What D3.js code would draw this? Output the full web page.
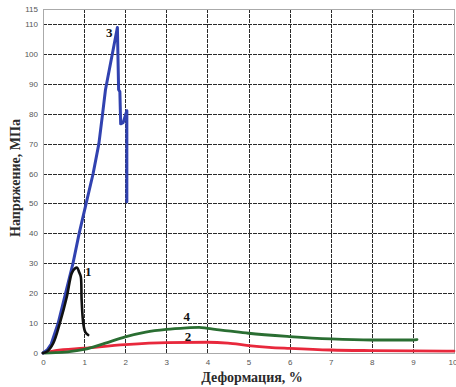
<!DOCTYPE html>
<html><head><meta charset="utf-8">
<script src="https://cdn.jsdelivr.net/npm/d3@7"></script>
<style>body{margin:0;background:#fff}svg{display:block}</style>
</head><body>
<svg id="c" width="456" height="387"></svg>
<script>
const xTicks = [0,1,2,3,4,5,6,7,8,9,10];
const yTicks = [0,10,20,30,40,50,60,70,80,90,100,110,115];
const xTitle = "Деформация, %";
const yTitle = "Напряжение, МПа";

const curve1X = [0,0.1,0.25,0.41,0.58,0.70,0.78,0.83,0.88,0.92,0.94,0.98,1.03,1.1];
const curve1Y = [0,0.5,3.3,10,18.8,26.7,28.3,28.5,27,25.5,17.7,9.9,7,6];
const curve3X = [0,0.1,0.2,0.37,0.55,0.73,0.88,1.05,1.22,1.36,1.45,1.52,1.81,1.84,1.87,1.89,1.95,2.04,2.04];
const curve3Y = [0,1,3,10,20,30,40,50,60,70,80,88,108.8,88,87.4,76.6,77,81,50.6];
const curve4X = [0,0.3,0.6,1,1.5,2,2.5,3,3.5,3.8,4,4.5,5,6,7,8,9,9.1];
const curve4Y = [0,0.1,0.4,1.2,3.2,5.4,7,7.9,8.4,8.6,8.2,7.4,6.6,5.5,4.7,4.35,4.35,4.5];
const curve2X = [0,0.3,1,2,3,4,4.5,5,5.5,6,7,8,9,10];
const curve2Y = [0,0.8,1.6,2.8,3.5,3.6,3.3,2.5,1.9,1.55,1.0,0.8,0.7,0.65];
const curveLabels = ["1","3","4","2"];
const labelX = [1.1,1.61,3.5,3.53];
const labelY = [25.9,105.7,10.7,4];

const svg = d3.select("#c");
const x = d3.scaleLinear().domain([0,10]).range([43,454]);
const y = d3.scaleLinear().domain([0,115]).range([353,9]);
const px = v => Math.round(v) + 0.5;

// grid
const g = svg.append("g");
g.selectAll("line.v").data(xTicks.filter(d=>d>0&&d<10)).join("line")
  .attr("x1",d=>px(x(d))).attr("x2",d=>px(x(d))).attr("y1",y(0)).attr("y2",y(115))
  .attr("stroke","#2a2a2a").attr("stroke-width",1).attr("stroke-dasharray","4,1");
g.selectAll("line.h").data(yTicks.filter(d=>d>0&&d<115)).join("line")
  .attr("y1",d=>px(y(d))).attr("y2",d=>px(y(d))).attr("x1",x(0)).attr("x2",x(10))
  .attr("stroke","#2a2a2a").attr("stroke-width",1).attr("stroke-dasharray","4,1");
svg.append("rect").attr("x",px(x(0))).attr("y",px(y(115))).attr("width",Math.round(x(10)-x(0))).attr("height",Math.round(y(0)-y(115)))
  .attr("fill","none").attr("stroke","#aaa").attr("stroke-width",1);

// axes ticks
const ax = svg.append("g").attr("transform",`translate(0,${y(0)})`)
  .call(d3.axisBottom(x).tickValues(xTicks).tickFormat(d3.format("d")).tickSize(0).tickPadding(6));
ax.select(".domain").remove();
ax.selectAll("text").attr("font-family","Liberation Sans, Arial, sans-serif").attr("font-size",8).attr("fill","#555");
ax.selectAll("text").filter(d=>d===10).attr("text-anchor","end").attr("dx",3);
const ay = svg.append("g").attr("transform",`translate(${x(0)},0)`)
  .call(d3.axisLeft(y).tickValues(yTicks).tickFormat(d3.format("d")).tickSize(0).tickPadding(5));
ay.select(".domain").remove();
ay.selectAll("text").attr("font-family","Liberation Sans, Arial, sans-serif").attr("font-size",8).attr("fill","#555");

// curves
const line = d3.line().x(d=>x(d[0])).y(d=>y(d[1])).curve(d3.curveMonotoneX);
const lineL = d3.line().x(d=>x(d[0])).y(d=>y(d[1]));
function draw(xs, ys, color, w, gen){
  svg.append("path").datum(xs.map((v,i)=>[v,ys[i]])).attr("d",gen)
    .attr("fill","none").attr("stroke",color).attr("stroke-width",w)
    .attr("stroke-linejoin","round").attr("stroke-linecap","round");
}
draw(curve2X, curve2Y, "#e8283c", 2.8, line);
draw(curve4X, curve4Y, "#2a6e32", 2.8, line);
draw(curve3X, curve3Y, "#3142b0", 3, lineL);
draw(curve1X, curve1Y, "#111", 2.6, d3.line().x(d=>x(d[0])).y(d=>y(d[1])).curve(d3.curveCatmullRom));

// labels
svg.selectAll("text.lbl").data(curveLabels).join("text")
  .attr("x",(d,i)=>x(labelX[i])).attr("y",(d,i)=>y(labelY[i]))
  .attr("text-anchor","middle").attr("font-family","Liberation Serif, Times New Roman, serif")
  .attr("font-weight","bold").attr("font-size",13).attr("fill","#111").text(d=>d);

// titles
svg.append("text").attr("x",252).attr("y",382).attr("text-anchor","middle")
  .attr("font-family","Liberation Serif, Times New Roman, serif").attr("font-weight","bold")
  .attr("font-size",14).attr("fill","#2a2a2a").text(xTitle);
svg.append("text").attr("transform","translate(20,178) rotate(-90)").attr("text-anchor","middle")
  .attr("font-family","Liberation Serif, Times New Roman, serif").attr("font-weight","bold")
  .attr("font-size",14).attr("fill","#2a2a2a").text(yTitle);
</script>
</body></html>
